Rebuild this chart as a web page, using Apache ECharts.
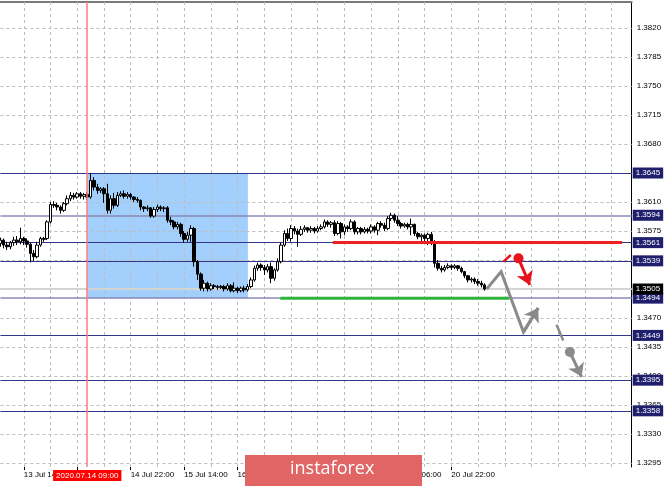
<!DOCTYPE html>
<html><head><meta charset="utf-8">
<script src="https://cdn.jsdelivr.net/npm/echarts@6/dist/echarts.min.js"></script>
<style>html,body{margin:0;padding:0;background:#fff}#c{width:665px;height:486px}</style>
</head><body><div id="c"></div>
<script>
// bar index 0 = 13 Jul 14:00 (H1 bars)
const firstBar = -7, lastSlot = 182;
// [open, close, low, high] for bars -7 .. 138
const candles = [
[1.3560,1.3564,1.3556,1.3567],[1.3564,1.3558,1.3554,1.3566],[1.3558,1.3556,1.3552,1.3562],[1.3556,1.3561,1.3553,1.3563],
[1.3561,1.3564,1.3557,1.3568],[1.3564,1.3562,1.3558,1.3569],[1.3562,1.3566,1.3559,1.3579],[1.3566,1.3563,1.3558,1.3568],
[1.3563,1.3559,1.3555,1.3566],[1.3559,1.3548,1.3537,1.3561],[1.3548,1.3544,1.3539,1.3552],[1.3544,1.3558,1.3542,1.3562],
[1.3558,1.3566,1.3556,1.3568],[1.3566,1.3565,1.3562,1.3568],[1.3566,1.3586,1.3564,1.3588],[1.3586,1.3607,1.3584,1.3610],
[1.3607,1.3606,1.3603,1.3611],[1.3606,1.3604,1.3600,1.3609],[1.3604,1.3600,1.3596,1.3606],[1.3600,1.3608,1.3598,1.3610],
[1.3608,1.3614,1.3606,1.3618],[1.3614,1.3618,1.3611,1.3622],[1.3618,1.3616,1.3613,1.3621],[1.3616,1.3620,1.3614,1.3622],
[1.3620,1.3617,1.3614,1.3622],[1.3617,1.3619,1.3613,1.3621],[1.3619,1.3616,1.3613,1.3622],[1.3616,1.3636,1.3614,1.3645],
[1.3636,1.3628,1.3624,1.3640],[1.3628,1.3624,1.3620,1.3632],[1.3624,1.3626,1.3621,1.3628],[1.3626,1.3620,1.3609,1.3628],
[1.3620,1.3600,1.3596,1.3632],[1.3600,1.3614,1.3596,1.3618],[1.3614,1.3606,1.3602,1.3621],[1.3606,1.3618,1.3604,1.3622],
[1.3618,1.3620,1.3616,1.3623],[1.3620,1.3617,1.3614,1.3624],[1.3617,1.3619,1.3614,1.3622],[1.3619,1.3616,1.3613,1.3621],
[1.3616,1.3613,1.3610,1.3617],[1.3613,1.3612,1.3609,1.3616],[1.3612,1.3604,1.3600,1.3613],[1.3604,1.3602,1.3598,1.3605],
[1.3602,1.3603,1.3599,1.3606],[1.3603,1.3593,1.3591,1.3604],[1.3593,1.3601,1.3591,1.3604],[1.3601,1.3604,1.3598,1.3607],
[1.3604,1.3602,1.3599,1.3606],[1.3602,1.3603,1.3598,1.3605],[1.3603,1.3588,1.3585,1.3605],[1.3588,1.3586,1.3582,1.3592],
[1.3586,1.3580,1.3577,1.3588],[1.3580,1.3583,1.3577,1.3586],[1.3583,1.3572,1.3568,1.3585],[1.3572,1.3565,1.3561,1.3575],
[1.3565,1.3570,1.3562,1.3574],[1.3570,1.3578,1.3562,1.3582],[1.3578,1.3538,1.3532,1.3580],[1.3538,1.3523,1.3516,1.3540],
[1.3523,1.3506,1.3503,1.3525],[1.3506,1.3512,1.3502,1.3516],[1.3512,1.3505,1.3502,1.3514],[1.3505,1.3509,1.3503,1.3512],
[1.3509,1.3508,1.3505,1.3511],[1.3508,1.3507,1.3504,1.3510],[1.3507,1.3508,1.3505,1.3510],[1.3508,1.3505,1.3502,1.3510],
[1.3505,1.3509,1.3503,1.3512],[1.3509,1.3503,1.3501,1.3511],[1.3503,1.3506,1.3501,1.3513],[1.3506,1.3503,1.3500,1.3508],
[1.3503,1.3506,1.3501,1.3508],[1.3506,1.3504,1.3501,1.3509],[1.3504,1.3508,1.3502,1.3511],[1.3508,1.3516,1.3506,1.3519],
[1.3516,1.3530,1.3514,1.3533],[1.3530,1.3534,1.3527,1.3537],[1.3534,1.3531,1.3527,1.3536],[1.3531,1.3528,1.3522,1.3534],
[1.3528,1.3532,1.3525,1.3535],[1.3532,1.3518,1.3512,1.3537],[1.3518,1.3528,1.3515,1.3530],[1.3528,1.3538,1.3526,1.3542],
[1.3538,1.3558,1.3536,1.3561],[1.3558,1.3572,1.3556,1.3576],[1.3572,1.3566,1.3563,1.3578],[1.3566,1.3578,1.3562,1.3582],
[1.3578,1.3575,1.3571,1.3581],[1.3575,1.3571,1.3556,1.3578],[1.3571,1.3577,1.3569,1.3581],[1.3577,1.3579,1.3574,1.3582],
[1.3579,1.3576,1.3573,1.3580],[1.3576,1.3578,1.3573,1.3581],[1.3578,1.3575,1.3572,1.3580],[1.3575,1.3578,1.3573,1.3581],
[1.3578,1.3580,1.3576,1.3583],[1.3580,1.3586,1.3578,1.3589],[1.3586,1.3583,1.3580,1.3588],[1.3583,1.3585,1.3579,1.3587],
[1.3585,1.3572,1.3569,1.3588],[1.3572,1.3584,1.3570,1.3587],[1.3584,1.3574,1.3566,1.3586],[1.3574,1.3580,1.3570,1.3583],
[1.3580,1.3578,1.3574,1.3582],[1.3578,1.3586,1.3576,1.3589],[1.3586,1.3574,1.3571,1.3588],[1.3574,1.3578,1.3571,1.3580],
[1.3578,1.3574,1.3571,1.3580],[1.3574,1.3577,1.3572,1.3580],[1.3577,1.3575,1.3572,1.3579],[1.3575,1.3580,1.3572,1.3583],
[1.3580,1.3576,1.3573,1.3582],[1.3576,1.3584,1.3570,1.3586],[1.3584,1.3582,1.3579,1.3587],[1.3582,1.3578,1.3575,1.3585],
[1.3578,1.3590,1.3576,1.3593],[1.3590,1.3594,1.3587,1.3597],[1.3594,1.3588,1.3585,1.3596],[1.3588,1.3584,1.3581,1.3593],
[1.3584,1.3581,1.3578,1.3586],[1.3581,1.3583,1.3579,1.3585],[1.3583,1.3580,1.3577,1.3585],[1.3580,1.3583,1.3570,1.3590],
[1.3583,1.3572,1.3569,1.3584],[1.3572,1.3568,1.3565,1.3574],[1.3568,1.3570,1.3563,1.3572],[1.3570,1.3566,1.3562,1.3572],
[1.3566,1.3571,1.3558,1.3573],[1.3571,1.3562,1.3558,1.3574],[1.3562,1.3536,1.3531,1.3564],[1.3536,1.3530,1.3527,1.3540],
[1.3530,1.3528,1.3525,1.3533],[1.3528,1.3531,1.3526,1.3534],[1.3531,1.3533,1.3529,1.3536],[1.3533,1.3531,1.3528,1.3535],
[1.3531,1.3533,1.3529,1.3535],[1.3533,1.3530,1.3527,1.3534],[1.3530,1.3526,1.3524,1.3532],[1.3526,1.3521,1.3518,1.3527],
[1.3521,1.3516,1.3513,1.3522],[1.3516,1.3517,1.3513,1.3519],[1.3517,1.3514,1.3511,1.3519],[1.3514,1.3512,1.3509,1.3517],
[1.3512,1.3510,1.3507,1.3515],[1.3510,1.3505,1.3503,1.3512]
];
const priceTicks = [1.3295,1.3330,1.3365,1.3400,1.3435,1.3470,1.3505,1.3540,1.3575,1.3610,1.3645,1.3680,1.3715,1.3750,1.3785,1.3820];
const levelsDark = [1.3645,1.3561,1.3539,1.3449,1.3395,1.3358];
const levelsLight = [1.3594,1.3494];
const currentPrice = 1.3505;
const gridBars = [0,8,16,24,32,40,48,56,64,72,80,88,96,104,112,120,128,136,144,152,160,168,176];
const xTickBars = [0,16,32,48,64,80,96,112,128];
const xTickText = ['13 Jul 14:00','14 Jul 06:00','14 Jul 22:00','15 Jul 14:00','16 Jul 06:00','16 Jul 22:00','17 Jul 14:00','20 Jul 06:00','20 Jul 22:00'];
const markerBar = 19, markerText = '2020.07.14 09:00';
const zone = {x0:19, x1:67.1, top:1.3645, bottom:1.3494};
const resistance = [[92.5,1.3561],[179.1,1.3561]];
const support = [[76.8,1.3494],[145.3,1.3494]];
const grayPath = [[138.6,1.3505],[142.9,1.3526],[149.6,1.3453],[154.0,1.3482]];
const redTick = [[143.6,1.3538],[145.8,1.3546]];
const redDot = [148.1,1.3542], redTip = [151.5,1.3510];
const grayDash = [[159.5,1.3462],[161.5,1.3443]];
const grayDot = [163.5,1.3429], grayTip = [167.0,1.3399];

const cats = [];
for (let i = firstBar; i <= lastSlot; i++) cats.push(String(i));
const FONT = 'Liberation Sans';
const tickShown = (idx, val) => xTickBars.indexOf(+val) >= 0;

// horizontal line across the whole plot, placed by coordinates on the value axes
const hLine = (v, lineStyle, label) => [
  {coord:[firstBar, v], lineStyle:lineStyle, label:label},
  {coord:[lastSlot, v]}
];
const boxLabel = (v, bg) => ({show:true, position:'end', distance:1, formatter: () => v.toFixed(4),
  backgroundColor:bg, color:'#fff', padding:[2,3,1,3], fontSize:8, fontFamily:FONT});

const navy = '#1f1f6e';
const levelItems = [];
levelsDark.forEach(v => levelItems.push(hLine(v, {color:'#34348c', width:1, type:'solid'}, boxLabel(v, navy))));
levelsLight.forEach(v => levelItems.push(hLine(v, {color:'#8a8ab8', width:1.5, type:'solid'}, boxLabel(v, navy))));
levelItems.push(hLine(currentPrice, {color:'#d4d4d4', width:2, type:'solid'}, boxLabel(currentPrice, '#000')));

const gridItems = [];
priceTicks.forEach(v => gridItems.push(hLine(v, {color:'#bdbdbd', width:1, type:[3,3]},
  {show:true, position:'end', distance:5, formatter: () => v.toFixed(4), color:'#000', fontSize:8, fontFamily:FONT})));
gridBars.forEach(b => gridItems.push({xAxis: b, lineStyle:{color:'#bdbdbd', width:1, type:[3,3]}, label:{show:false}}));

const overlay = (extra) => Object.assign({type:'line', xAxisIndex:1, yAxisIndex:0, showSymbol:false, silent:true, animation:false}, extra);

const option = {
  animation:false,
  grid:{left:0.4, right:33.3, top:2, bottom:19, containLabel:false},
  xAxis:[
    {type:'category', data:cats, boundaryGap:false,
      axisLine:{show:false, onZero:false},
      axisTick:{show:true, interval:tickShown, length:3, lineStyle:{color:'#000'}},
      axisLabel:{interval:tickShown, formatter:(v) => xTickText[xTickBars.indexOf(+v)], align:'left', fontSize:8, color:'#000', margin:4, fontFamily:FONT},
      splitLine:{show:false}},
    {type:'value', min:firstBar, max:lastSlot, position:'top',
      axisLine:{show:true, onZero:false, lineStyle:{color:'#7a7a7a', width:2}},
      axisTick:{show:false}, axisLabel:{show:false}, splitLine:{show:false}}
  ],
  yAxis:{type:'value', position:'right', min:1.32902, max:1.38514,
    axisLine:{show:true, onZero:false, lineStyle:{color:'#000', width:1}},
    axisTick:{show:false}, axisLabel:{show:false}, splitLine:{show:false}},
  series:[
    overlay({name:'zone', data:[[zone.x0, zone.top]], z:1, lineStyle:{opacity:0},
      markArea:{silent:true, z:1, itemStyle:{color:'#9ccbfc', opacity:0.93},
        data:[[{coord:[zone.x0, zone.top]}, {coord:[zone.x1, zone.bottom]}]]}}),
    overlay({name:'grid', data:[[zone.x0, zone.top]], z:2, lineStyle:{opacity:0},
      markLine:{silent:true, z:2, symbol:'none', data:gridItems}}),
    overlay({name:'levels', data:[[zone.x0, zone.top]], z:3, lineStyle:{opacity:0},
      markLine:{silent:true, z:3, symbol:'none', data:levelItems}}),
    {name:'EURUSD', type:'candlestick', xAxisIndex:0, yAxisIndex:0, data:candles, barWidth:3, z:4,
      itemStyle:{color:'#fff', color0:'#000', borderColor:'#000', borderColor0:'#000', borderWidth:1}},
    overlay({name:'marker', data:[[markerBar, zone.top]], z:5, lineStyle:{opacity:0},
      markLine:{silent:true, z:5, symbol:'none',
        data:[{xAxis:markerBar, lineStyle:{color:'#ff7a7a', width:1.5, type:'solid'},
          label:{show:true, position:'start', distance:3, formatter:markerText, backgroundColor:'#ff0000', color:'#fff', padding:[2,3,1,3], fontSize:8, fontFamily:FONT}}]}}),
    overlay({name:'resistance', data:resistance, z:5, lineStyle:{color:'#ef2020', width:3}}),
    overlay({name:'support', data:support, z:5, lineStyle:{color:'#2db43a', width:3}}),
    overlay({name:'grayPath', data:grayPath, z:6, lineStyle:{color:'#8a8a8a', width:3, join:'miter'},
      markLine:{silent:true, z:6, symbol:['none','arrow'], symbolSize:13, lineStyle:{color:'#8a8a8a', width:3, type:'solid'},
        label:{show:false}, data:[[{coord:grayPath[2]}, {coord:grayPath[3]}]]}}),
    overlay({name:'redTick', data:redTick, z:6, lineStyle:{color:'#e8141c', width:2.5}}),
    overlay({name:'redArrow', data:[redDot], z:6, showSymbol:true, symbol:'circle', symbolSize:10, itemStyle:{color:'#e8141c'}, lineStyle:{opacity:0},
      markLine:{silent:true, z:6, symbol:['none','arrow'], symbolSize:13, lineStyle:{color:'#e8141c', width:3, type:'solid'},
        label:{show:false}, data:[[{coord:redDot}, {coord:redTip}]]}}),
    overlay({name:'grayDash', data:grayDash, z:6, lineStyle:{color:'#8a8a8a', width:2.5}}),
    overlay({name:'grayArrow', data:[grayDot], z:6, showSymbol:true, symbol:'circle', symbolSize:10, itemStyle:{color:'#8a8a8a'}, lineStyle:{opacity:0},
      markLine:{silent:true, z:6, symbol:['none','arrow'], symbolSize:13, lineStyle:{color:'#8a8a8a', width:3, type:'solid'},
        label:{show:false}, data:[[{coord:grayDot}, {coord:grayTip}]]}})
  ],
  graphic:[
    {type:'rect', left:245, top:455, z:100, zlevel:1, shape:{width:177, height:31}, style:{fill:'#e16565'}},
    {type:'text', left:290, top:460, z:101, zlevel:1, style:{text:'instaforex', fill:'#fff', font:'18px "Open Sans"'}}
  ]
};
const chart = echarts.init(document.getElementById('c'), null, {renderer:'canvas'});
chart.setOption(option);
</script>
</body></html>
